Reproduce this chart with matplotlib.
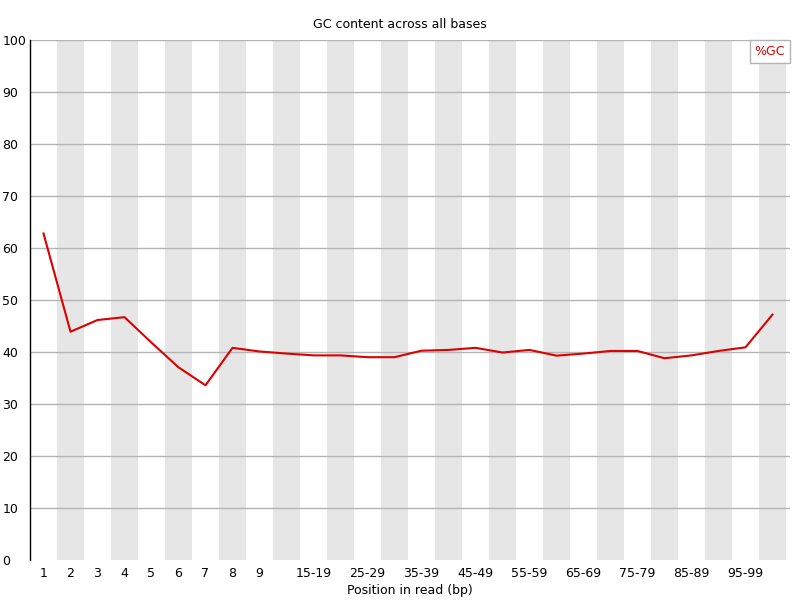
import matplotlib
matplotlib.use("Agg")
import matplotlib.pyplot as plt

categories = ["1", "2", "3", "4", "5", "6", "7", "8", "9",
              "10-14", "15-19", "20-24", "25-29", "30-34", "35-39", "40-44",
              "45-49", "50-54", "55-59", "60-64", "65-69", "70-74", "75-79",
              "80-84", "85-89", "90-94", "95-99", "100-101"]
shown_labels = ["1", "2", "3", "4", "5", "6", "7", "8", "9",
                "", "15-19", "", "25-29", "", "35-39", "",
                "45-49", "", "55-59", "", "65-69", "", "75-79",
                "", "85-89", "", "95-99", ""]
gc_values = [62.8, 43.9, 46.15, 46.7, 41.8, 37.05, 33.6, 40.8, 40.1,
             39.7, 39.35, 39.35, 39.0, 39.0, 40.25, 40.4,
             40.8, 39.9, 40.4, 39.3, 39.7, 40.2, 40.2,
             38.8, 39.35, 40.2, 40.9, 47.2]
y_ticks = [0, 10, 20, 30, 40, 50, 60, 70, 80, 90, 100]

plt.rcParams['font.family'] = ['DejaVu Sans']
fig = plt.figure(figsize=(8, 6), dpi=100)
ax = fig.add_axes([30/800, 40/600, 760/800, 520/600])

n = len(categories)
xs = list(range(n))
for i in xs:
    if i % 2 == 1:
        ax.axvspan(i - 0.5, i + 0.5, color="#e6e6e6", lw=0, zorder=0)
for t in y_ticks[1:]:
    ax.axhline(t, color="#b4b4b4", lw=1, zorder=1)

ax.plot(xs, gc_values, color="#dd0000", lw=1.5, zorder=3, label="%GC")

ax.set_xlim(-0.5, n - 0.5 + 4/27)
ax.set_ylim(0, 100)
ax.set_yticks(y_ticks)
ax.set_yticklabels([str(t) for t in y_ticks], fontsize=9, ha="left")
ax.set_xticks(xs)
ax.set_xticklabels(shown_labels, fontsize=9)
ax.tick_params(axis="x", length=0, pad=5)
ax.tick_params(axis="y", length=0, pad=20)
for s in ["top", "right", "bottom"]:
    ax.spines[s].set_visible(False)
ax.spines["left"].set_color("black")
ax.spines["left"].set_linewidth(1)

ax.set_xlabel("Position in read (bp)", fontsize=9, labelpad=3)
fig.text(0.5, 1 - 25/600, "GC content across all bases", ha="center", va="center", fontsize=9)

leg = ax.legend(loc="upper right", handlelength=0, handletextpad=0, labelcolor="#dd0000",
                fancybox=False, edgecolor="#b4b4b4", framealpha=1, borderaxespad=0,
                fontsize=9, borderpad=0.4)
for h in leg.legend_handles:
    h.set_visible(False)

fig.savefig("out.png", dpi=100)
